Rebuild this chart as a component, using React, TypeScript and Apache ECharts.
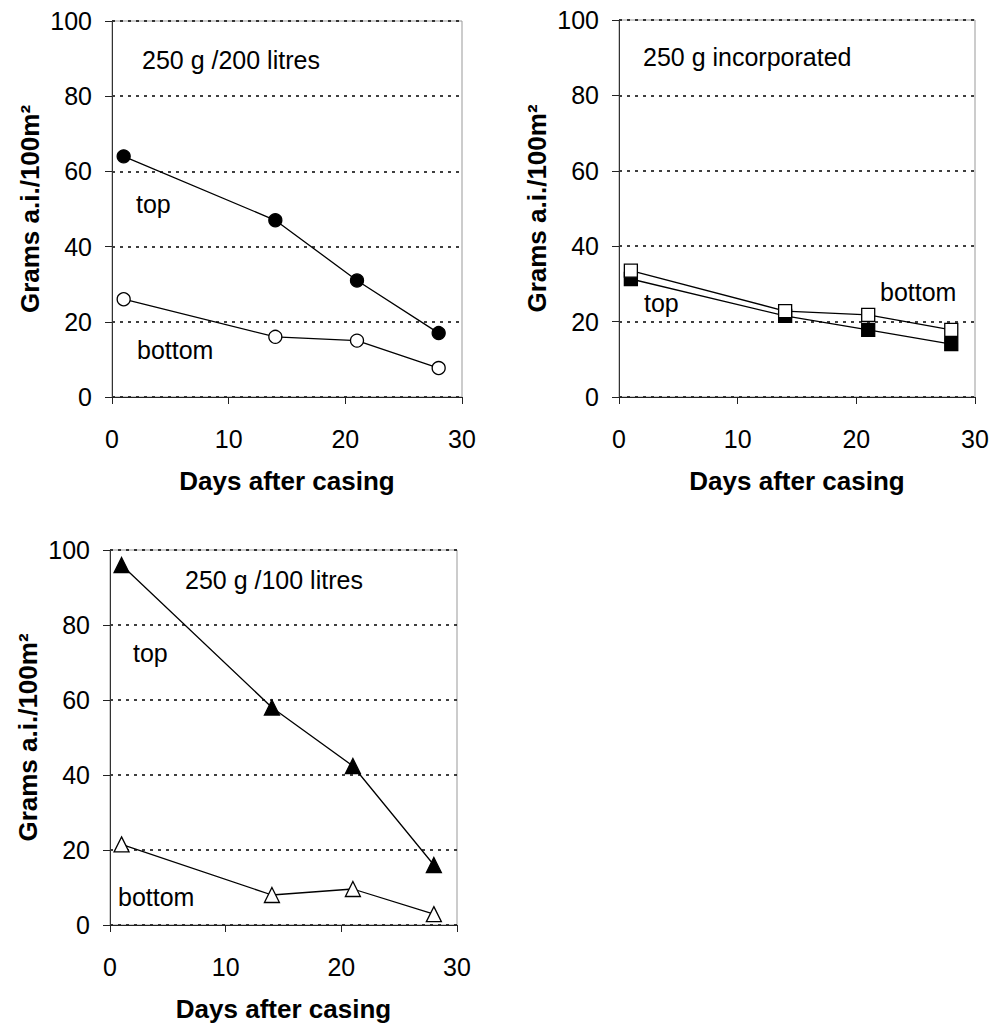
import React, { useEffect, useRef } from "react";
import * as echarts from "echarts";

const days = [1, 14, 21, 28];
const top200 = [64, 47, 31, 17];
const bottom200 = [26, 16, 15, 7.7];
const topInc = [31.3, 21.5, 17.8, 14];
const bottomInc = [33.5, 22.8, 21.8, 17.8];
const top100 = [96, 58, 42.4, 16];
const bottom100 = [21.5, 8, 9.6, 2.9];

const xTitle = "Days after casing";
const yTitle = "Grams a.i./100m²";

const FONT = "Arial, 'Liberation Sans', sans-serif";
const FS = 25;

const grids = [
  { left: 112, top: 21, width: 350, height: 376 },
  { left: 619, top: 20, width: 356, height: 377 },
  { left: 110, top: 550, width: 347, height: 376 },
];

const pairs = (ys: number[]) => days.map((d, i) => [d, ys[i]]);

export default function App() {
  const ref = useRef<HTMLDivElement>(null);
  useEffect(() => {
    if (!ref.current) return;
    const chart = echarts.init(ref.current, null, { renderer: "svg" });
    const xAxes = grids.map((_, i) => ({
      type: "value",
      gridIndex: i,
      min: 0,
      max: 30,
      interval: 10,
      name: xTitle,
      nameLocation: "middle",
      nameGap: 84,
      nameTextStyle: { fontFamily: FONT, fontSize: 26, fontWeight: "bold", color: "#000", verticalAlign: "middle" },
      axisLine: { show: true, onZero: false, lineStyle: { color: "#222", width: 1 } },
      axisTick: { show: true, length: 7, lineStyle: { color: "#222", width: 1 } },
      axisLabel: { margin: 29, fontFamily: FONT, fontSize: FS, color: "#000" },
      splitLine: { show: false },
    }));
    const yAxes = grids.map((_, i) => ({
      type: "value",
      gridIndex: i,
      min: 0,
      max: 100,
      interval: 20,
      name: yTitle,
      nameLocation: "middle",
      nameGap: 82,
      nameTextStyle: { fontFamily: FONT, fontSize: 26, fontWeight: "bold", color: "#000", verticalAlign: "middle" },
      axisLine: { show: true, lineStyle: { color: "#333", width: 1 } },
      axisTick: { show: true, length: 7, lineStyle: { color: "#222", width: 1 } },
      axisLabel: { margin: 20, fontFamily: FONT, fontSize: FS, color: "#000" },
      splitLine: { show: true, lineStyle: { color: "#000", type: [3, 5], width: 1.7 } },
    }));
    const mk = (i: number, ys: number[], symbol: string, filled: boolean, size: number, z: number) => ({
      type: "line",
      xAxisIndex: i,
      yAxisIndex: i,
      data: pairs(ys),
      symbol,
      symbolSize: size,
      showSymbol: true,
      z,
      lineStyle: { color: "#000", width: 1.3 },
      itemStyle: { color: filled ? "#000" : "#fff", borderColor: "#000", borderWidth: 1.3 },
    });
    const txt = (x: number, y: number, s: string) => ({
      type: "text",
      x,
      y,
      z: 100,
      style: { text: s, fontFamily: FONT, fontSize: FS, fill: "#000", verticalAlign: "middle", align: "left" },
    });
    chart.setOption({
      animation: false,
      backgroundColor: "#fff",
      grid: grids.map((g) => ({ ...g, show: true, borderColor: "#999", borderWidth: 1, backgroundColor: "transparent" })),
      xAxis: xAxes,
      yAxis: yAxes,
      series: [
        mk(0, top200, "circle", true, 13, 3),
        mk(0, bottom200, "circle", false, 13, 3),
        mk(1, topInc, "rect", true, 13, 3),
        mk(1, bottomInc, "rect", false, 13, 4),
        mk(2, top100, "triangle", true, 15, 3),
        mk(2, bottom100, "triangle", false, 15, 3),
      ],
      graphic: [
        txt(142, 60, "250 g /200 litres"),
        txt(136, 204, "top"),
        txt(137, 350, "bottom"),
        txt(643, 57, "250 g incorporated"),
        txt(880, 292, "bottom"),
        txt(644, 303, "top"),
        txt(185, 580, "250 g /100 litres"),
        txt(133, 653, "top"),
        txt(118, 897, "bottom"),
      ],
    });
    return () => chart.dispose();
  }, []);
  return (
    <div
      ref={ref}
      style={{ position: "fixed", left: 0, top: 0, width: 994, height: 1023, background: "#fff" }}
    />
  );
}
